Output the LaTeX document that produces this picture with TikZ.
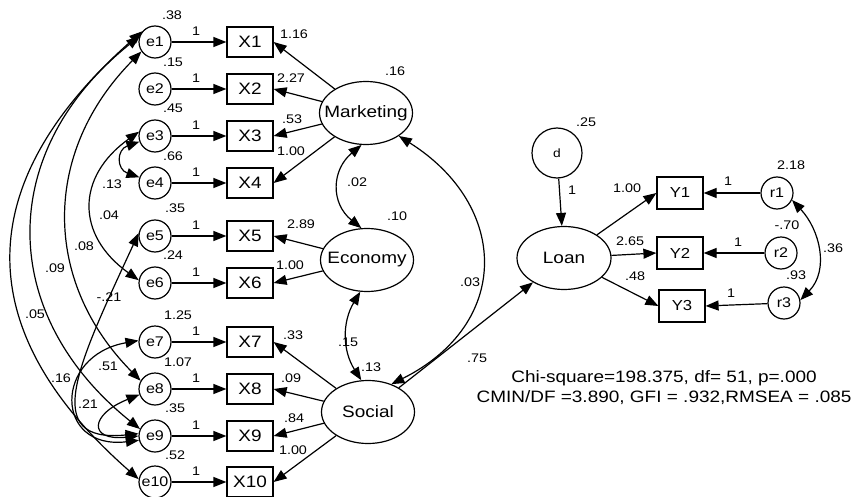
\documentclass[tikz,border=0pt]{standalone}
\usepackage{fontspec}
\setmainfont{Liberation Sans}[FakeStretch=1.15]
\usetikzlibrary{arrows.meta,shapes.geometric}
\tikzset
{
  ErrorStyle/.style =
  {
    shape = circle,
    draw,
    line width = 1.2pt,
    minimum size = 32pt,
    inner sep = 0pt,
    font = \fontsize{14}{14}\selectfont,
  },
  ObservedStyle/.style =
  {
    shape = rectangle,
    draw,
    line width = 1.2pt,
    minimum width = 46pt,
    minimum height = 30pt,
    inner sep = 0pt,
    font = \fontsize{16.5}{16.5}\selectfont,
  },
  LatentStyle/.style =
  {
    shape = ellipse,
    draw,
    line width = 1.2pt,
    minimum width = 93pt,
    minimum height = 63pt,
    inner xsep = -12pt,
    inner ysep = 0pt,
    font = \fontsize{16.5}{16.5}\selectfont,
  },
  EstimateStyle/.style =
  {
    inner sep = 0pt,
    font = \fontsize{12.5}{12.5}\selectfont,
  },
  PathStyle/.style =
  {
    line width = 1.2pt,
    -{Triangle[length=13pt,width=10pt]},
  },
  CovStyle/.style =
  {
    line width = 1.2pt,
    {Triangle[length=13pt,width=10pt]}-{Triangle[length=13pt,width=10pt]},
  }
}

\begin{document}
\begin{tikzpicture}[x=1pt, y=-1pt]
  \useasboundingbox (0,0) rectangle (866,497);

  % measurement model
  \foreach \i/\y in {1/42, 2/89, 3/136, 4/183, 5/236, 6/283, 7/342, 8/389, 9/436, 10/482}
  {
    \node[ErrorStyle] (e\i) at (155,\y) {e\i};
    \node[ObservedStyle] (X\i) at (250,\y) {X\i};
    \draw[PathStyle] (e\i) -- (X\i);
    \node[EstimateStyle] at (196,\y-11) {1};
  }

  \node[LatentStyle] (Marketing) at (366,113) {Marketing};
  \node[LatentStyle] (Economy) at (367,260) {Economy};
  \node[LatentStyle] (Social) at (368,412) {Social};

  \foreach \i in {1,...,4} \draw[PathStyle] (Marketing) -- (X\i.east);
  \foreach \i in {5,6} \draw[PathStyle] (Economy) -- (X\i.east);
  \foreach \i in {7,...,10} \draw[PathStyle] (Social) -- (X\i.east);

  % structural part
  \node[LatentStyle, minimum width = 94pt] (Loan) at (564,258) {Loan};
  \node[ErrorStyle, minimum size = 50pt, font = \fontsize{12}{12}\selectfont] (d) at (557,153) {d};
  \node[ObservedStyle, minimum height = 32pt, font = \fontsize{14.5}{14.5}\selectfont] (Y1) at (680,193) {Y1};
  \node[ObservedStyle, minimum height = 32pt, font = \fontsize{14.5}{14.5}\selectfont] (Y2) at (680,253) {Y2};
  \node[ObservedStyle, minimum height = 32pt, font = \fontsize{14.5}{14.5}\selectfont] (Y3) at (682,306) {Y3};
  \node[ErrorStyle] (r1) at (777,193) {r1};
  \node[ErrorStyle] (r2) at (781,253) {r2};
  \node[ErrorStyle] (r3) at (784,303) {r3};

  \draw[PathStyle] (Social) -- (Loan);
  \draw[PathStyle] (d) -- (Loan);
  \foreach \i in {1,2,3}
  {
    \draw[PathStyle] (Loan) -- (Y\i.west);
    \draw[PathStyle] (r\i) -- (Y\i.east);
  }

  % covariances
  \draw[CovStyle] (e1.140) .. controls +(-171,150) and +(-171,-150) .. (e10.170);
  \draw[CovStyle] (e1.160) .. controls +(-143,115) and +(-143,-115) .. (e9.155);
  \draw[CovStyle] (e1.215) .. controls +(-99,100) and +(-99,-100) .. (e8.150);
  \draw[CovStyle] (e3.165) .. controls +(-63,45) and +(-63,-45) .. (e6.170);
  \draw[CovStyle] (e3.200) .. controls +(-23,8) and +(-23,-8) .. (e4.160);
  \draw[CovStyle] (e5.170) .. controls +(-60,130) and +(-100,10) .. (e9.172);
  \draw[CovStyle] (e7.175) .. controls +(-85,15) and +(-85,10) .. (e9.195);
  \draw[CovStyle] (e8.200) .. controls +(-50,20) and +(-50,5) .. (e9.180);
  \draw[CovStyle] (Marketing.262) .. controls +(-30,25) and +(-31,-25) .. (Economy.100);
  \draw[CovStyle] (Economy.258) .. controls +(-18,30) and +(-19,-30) .. (Social.102);
  \draw[CovStyle] (Marketing.-35) .. controls +(111,70) and +(120,-60) .. (Social.50);
  \draw[CovStyle] (r1.-25) .. controls +(28,30) and +(29,-30) .. (r3.10);

  % estimates
  \foreach \x/\y/\t in {172/15/.38, 173/62/.15, 173/108/.45, 173/156/.66, 175/208/.35,
    173/255/.24, 178/315/1.25, 178/362/1.07, 175/408/.35, 175/455/.52,
    112/184/.13, 109/215/.04, 84/246/.08, 55/268/.09, 35/314/.05, 109/297/-.21,
    108/366/.51, 61/378/.16, 88/404/.21,
    294/34/1.16, 291/78/2.27, 292/119/.53, 291/151/1.00, 301/224/2.89, 290/265/1.00,
    293/335/.33, 291/378/.09, 294/418/.84, 293/450/1.00,
    395/71/.16, 357/182/.02, 397/216/.10, 470/282/.03, 348/342/.15, 371/367/.13, 477/358/.75,
    586/122/.25, 572/190/1, 627/188/1.00, 630/241/2.65, 635/276/.48,
    728/181/1, 738/242/1, 731/293/1, 791/165/2.18, 787/225/-.70, 796/275/.93, 833/248/.36}
    \node[EstimateStyle] at (\x,\y) {\t};

  \node[align = center, font = \fontsize{16.5}{20}\selectfont] (fit) at (664,388)
    {Chi-square=198.375, df= 51, p=.000\\CMIN/DF =3.890, GFI = .932,RMSEA = .085};
\end{tikzpicture}
\end{document}
